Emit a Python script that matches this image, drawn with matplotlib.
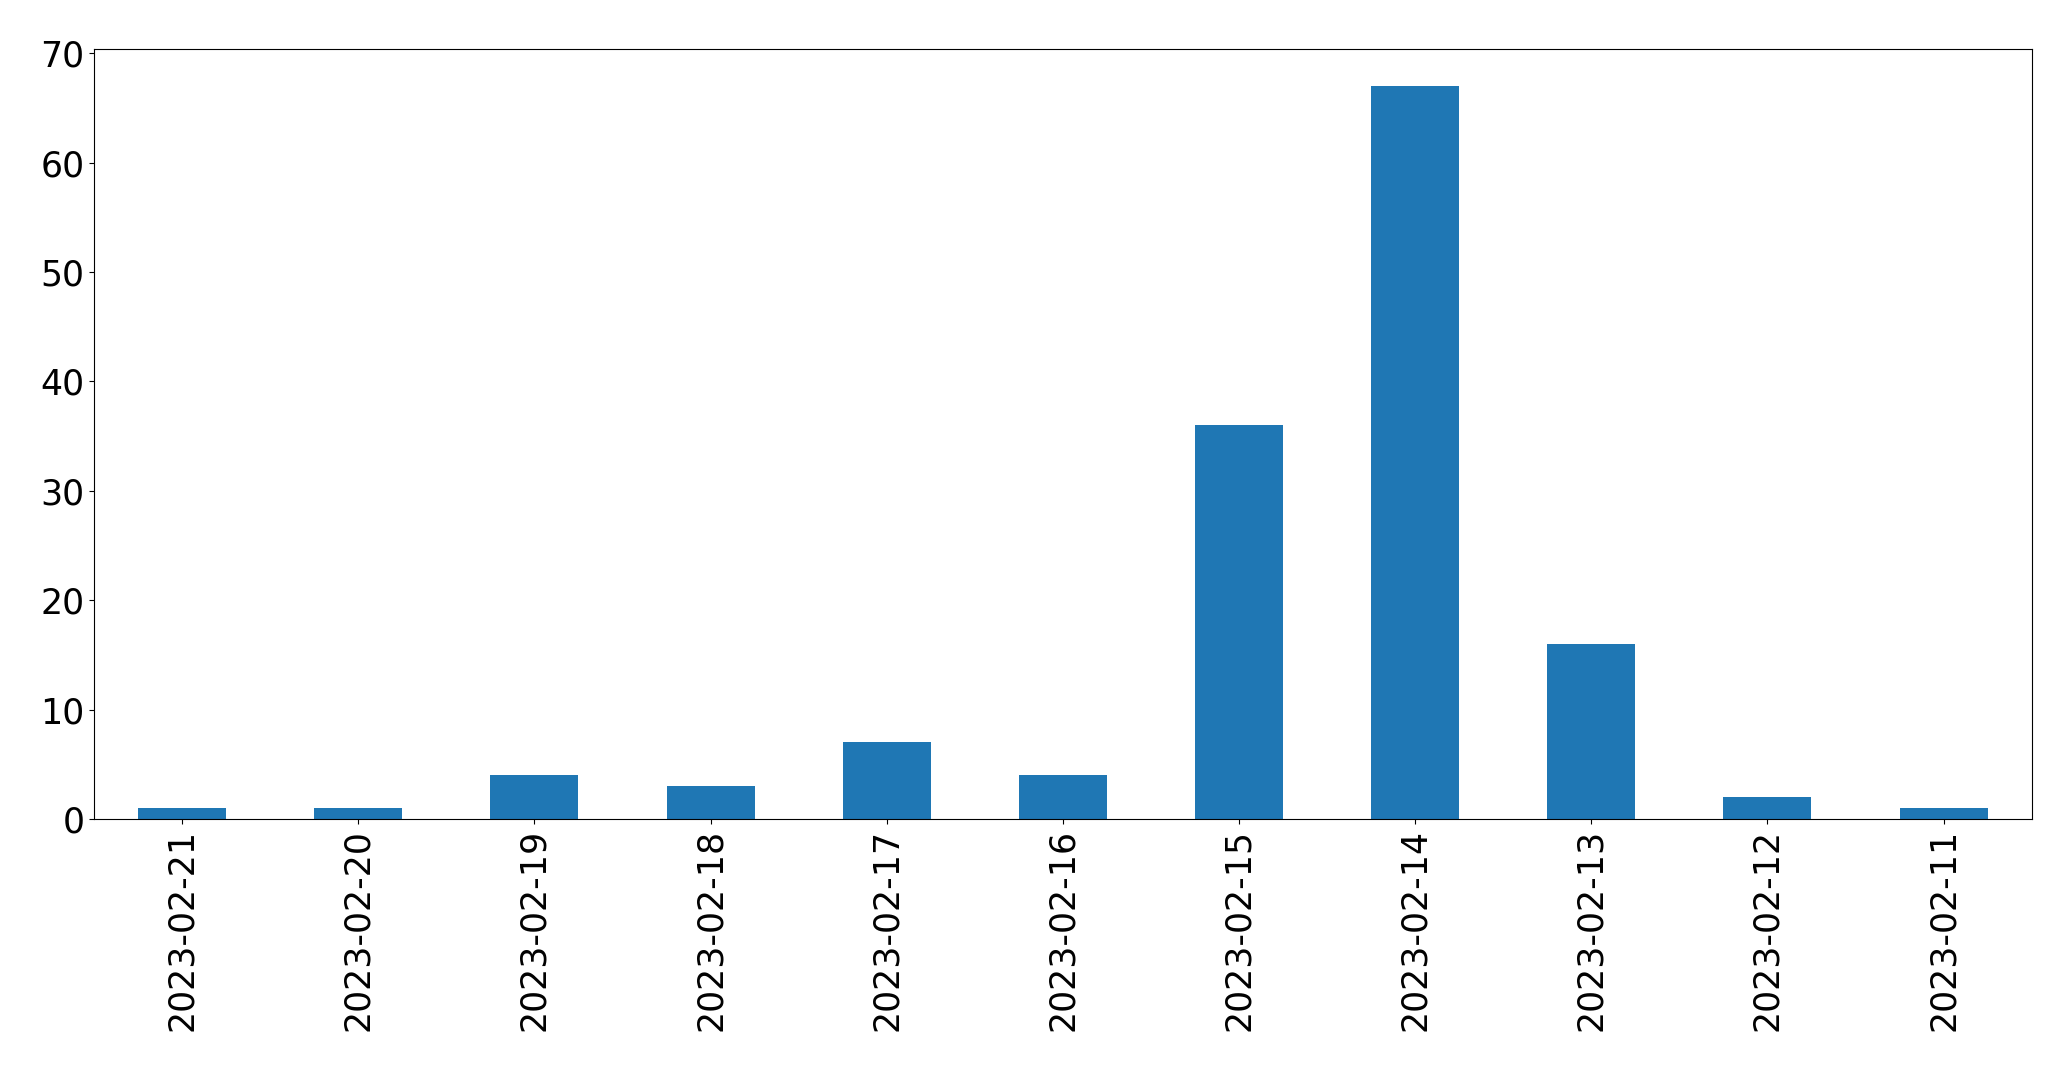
import numpy as np
from matplotlib import pyplot as plt

dates = ["2023-02-21", "2023-02-20", "2023-02-19", "2023-02-18", "2023-02-17",
         "2023-02-16", "2023-02-15", "2023-02-14", "2023-02-13", "2023-02-12",
         "2023-02-11"]
counts = [1, 1, 4, 3, 7, 4, 36, 67, 16, 2, 1]

fig, ax = plt.subplots(figsize=(20.71, 10.71), dpi=100)
fig.subplots_adjust(left=0.0454, right=0.981, top=0.954, bottom=0.2353)

x = np.arange(len(dates))
ax.bar(x, counts, width=0.5, color="#1f77b4")
ax.set_xlim(-0.5, len(dates) - 0.5)
ax.set_ylim(0, max(counts) * 1.05)
ax.set_xticks(x)
ax.set_xticklabels(dates, rotation=90)
ax.tick_params(labelsize=25)

plt.savefig("out.png", dpi=100)
